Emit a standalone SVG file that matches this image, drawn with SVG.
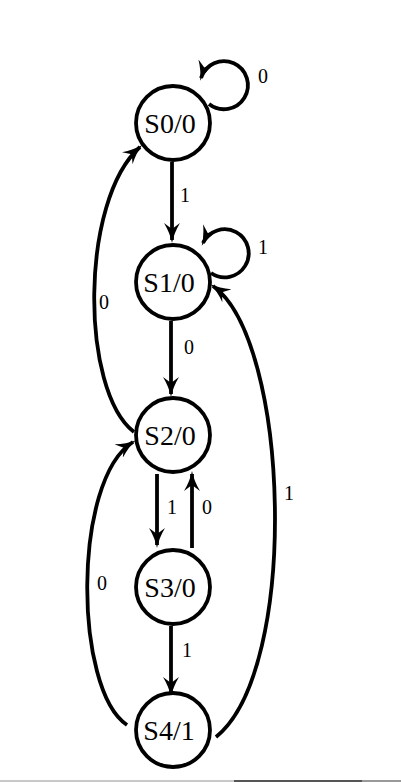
<svg xmlns="http://www.w3.org/2000/svg" width="401" height="782" viewBox="0 0 401 782">
<style>
.st{fill:#fff;stroke:#000;stroke-width:3.8}
.sl{font-family:"Liberation Serif","Times New Roman",serif;font-size:28px;text-anchor:middle;fill:#000}
.e{fill:none;stroke:#000;stroke-width:3.8;marker-end:url(#ah)}
.el{font-family:"Liberation Serif","Times New Roman",serif;font-size:20px;text-anchor:middle;fill:#000}
</style>
<defs>
<marker id="ah" markerUnits="userSpaceOnUse" viewBox="0 0 20 16" markerWidth="20" markerHeight="16" refX="17" refY="8" orient="auto">
<path d="M0,0 Q10,6 20,8 Q10,10 0,16 L6,8 z" fill="#000"/>
</marker>
</defs>
<rect width="401" height="782" fill="#fff"/>
<g id="connectors">
<path class="e" d="M209,104 A24 24 0 1 0 201,78"/>
<path class="e" d="M211,273 A24 24 0 1 0 203,243"/>
<path class="e" d="M172,162 L172,240"/>
<path class="e" d="M171,321 L171,394"/>
<path class="e" d="M157,474 L157,545"/>
<path class="e" d="M192,548 L192,474"/>
<path class="e" d="M171,626 L171,694"/>
<path class="e" d="M134,432 C80,390 80,200 140,147"/>
<path class="e" d="M127,725 C74,690 72,480 133,442"/>
<path class="e" d="M216,737 C300,670 290,340 213,286"/>
</g>
<g id="edge-labels">
<text class="el" x="263" y="83">0</text>
<text class="el" x="185" y="202">1</text>
<text class="el" x="263" y="254">1</text>
<text class="el" x="189" y="354">0</text>
<text class="el" x="172" y="514">1</text>
<text class="el" x="207" y="514">0</text>
<text class="el" x="187" y="657">1</text>
<text class="el" x="104" y="309">0</text>
<text class="el" x="102" y="590">0</text>
<text class="el" x="289" y="500">1</text>
</g>
<g id="S0"><circle class="st" cx="173" cy="123" r="37"/><text class="sl" x="170" y="133">S0/0</text></g>
<g id="S1"><circle class="st" cx="173" cy="282" r="37"/><text class="sl" x="169" y="292">S1/0</text></g>
<g id="S2"><circle class="st" cx="173" cy="435" r="37"/><text class="sl" x="170" y="445">S2/0</text></g>
<g id="S3"><circle class="st" cx="173" cy="587" r="37"/><text class="sl" x="170" y="597">S3/0</text></g>
<g id="S4"><circle class="st" cx="173" cy="730" r="37"/><text class="sl" x="169" y="740">S4/1</text></g>
<rect x="0" y="780" width="234" height="2" fill="#c8c8c8"/>
<rect x="234" y="780" width="128" height="2" fill="#555"/>
<rect x="362" y="780" width="39" height="2" fill="#999"/>
</svg>
